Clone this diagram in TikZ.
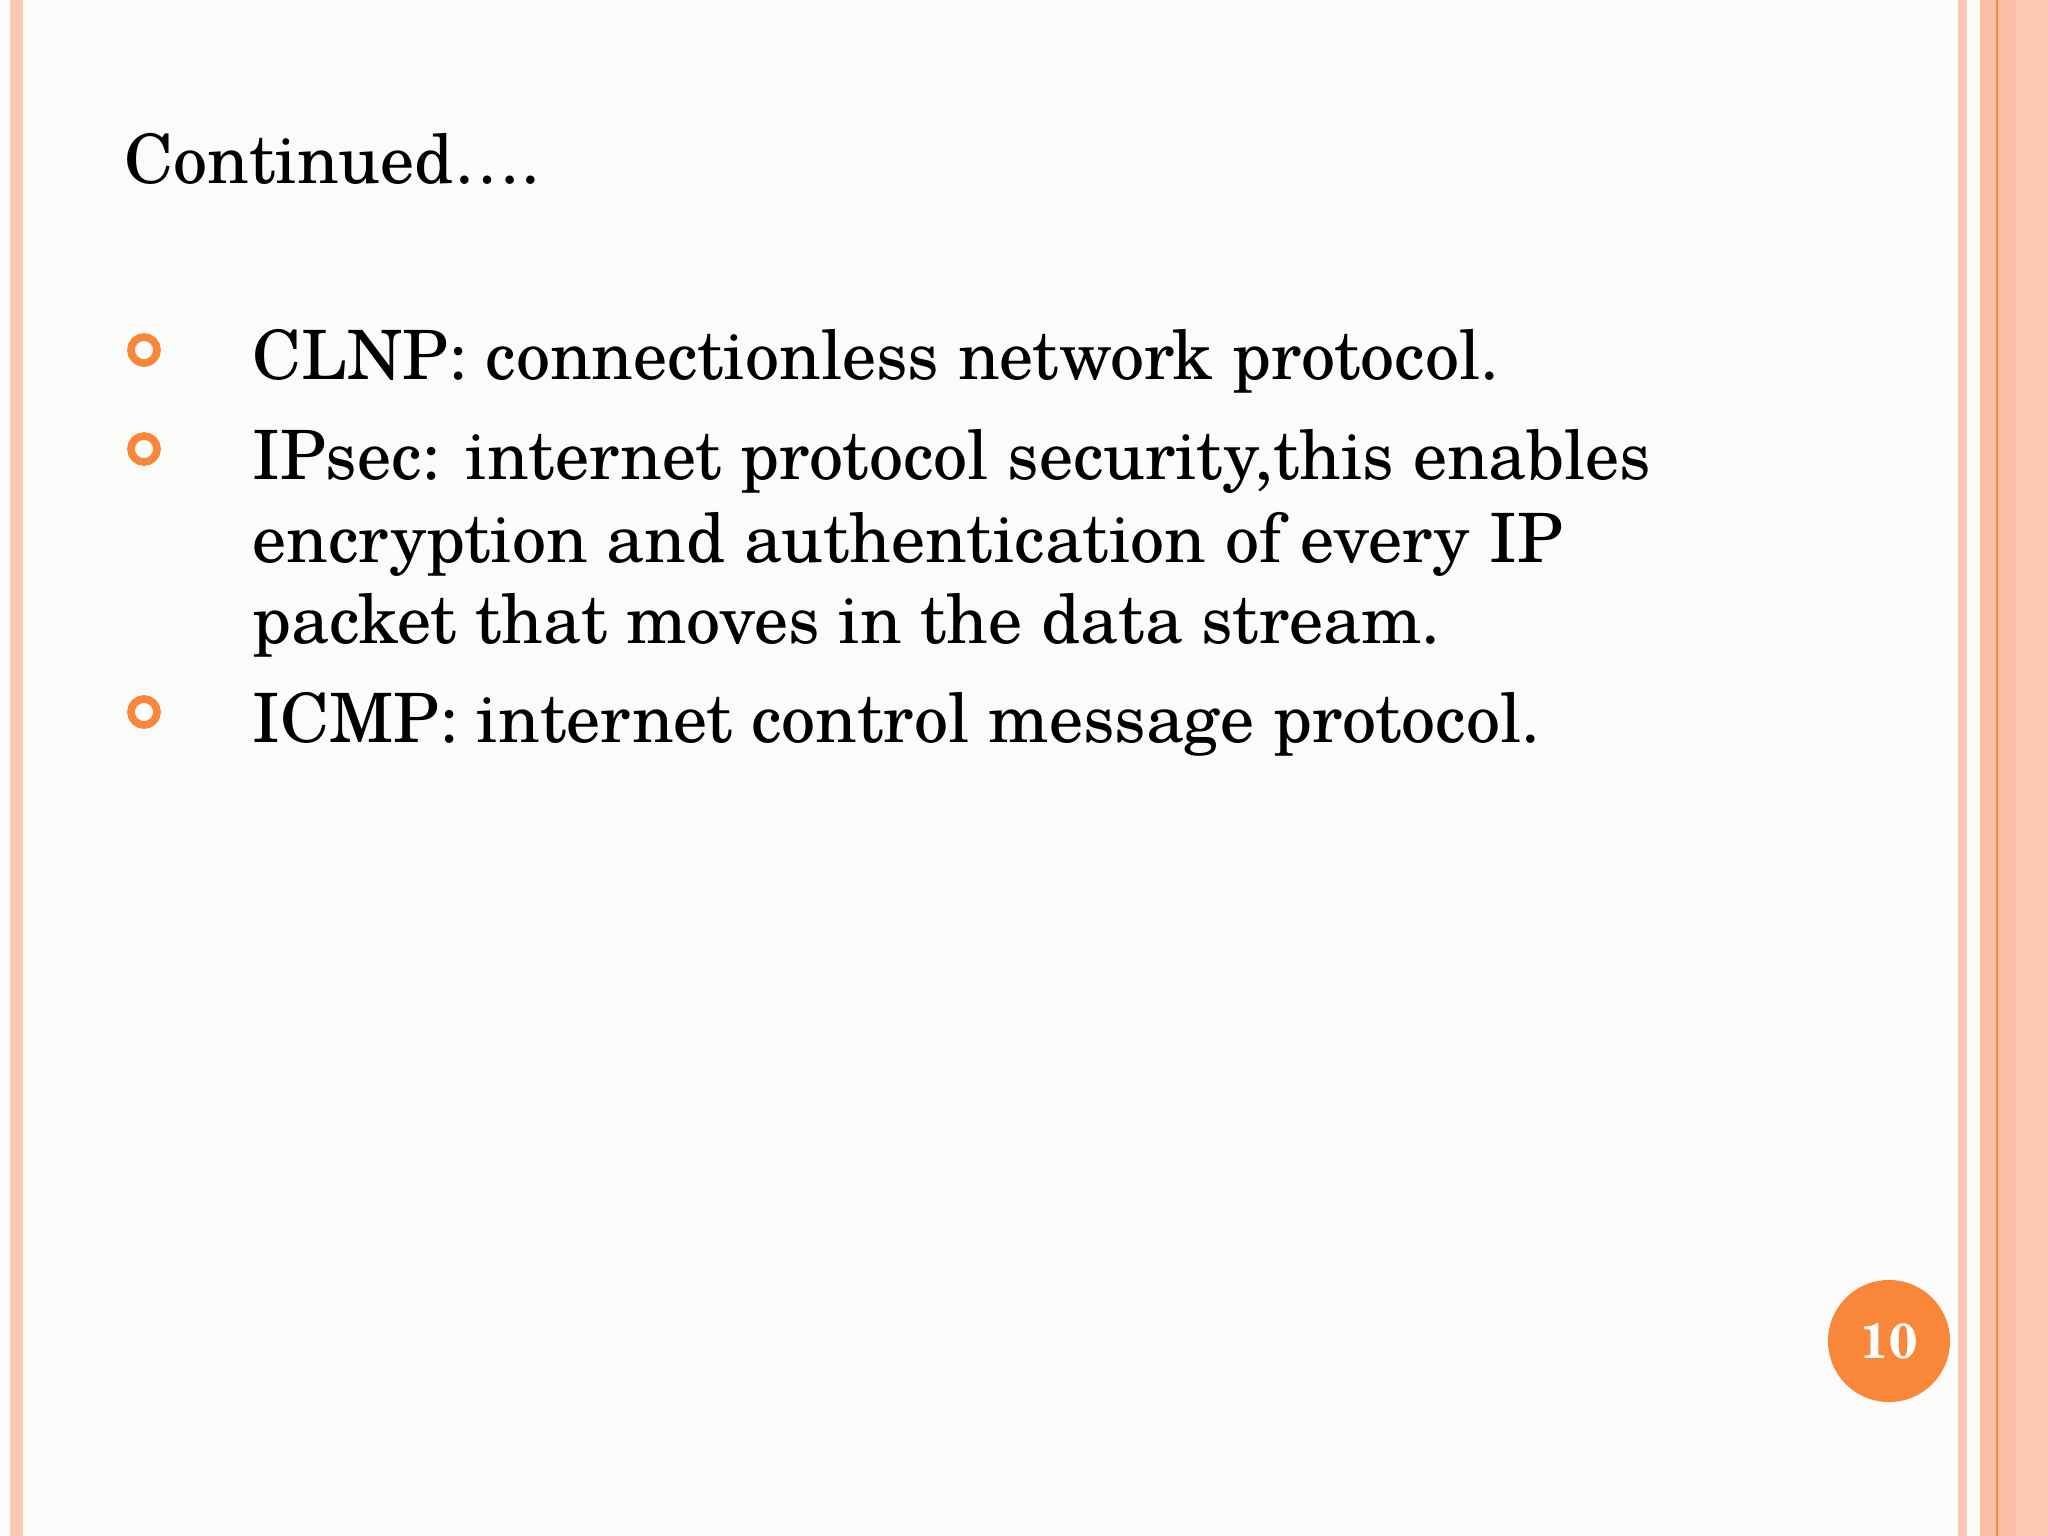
\documentclass[tikz,border=0pt]{standalone}
\usepackage{fontspec}
\setmainfont{TeX Gyre Schola}
\definecolor{bg}{HTML}{FBFBF9}
\definecolor{stripe}{HTML}{FCC7B3}
\definecolor{stripeb}{HTML}{FBBFA8}
\definecolor{orng}{HTML}{F9873A}
\begin{document}
\begin{tikzpicture}[x=0.01cm,y=-0.01cm,
  txt/.style={anchor=base west,inner sep=0pt,font=\fontsize{19.35}{23}\selectfont,text=black},
  bul/.style={circle,draw=orng,line width=2.2pt,minimum size=0.26cm,inner sep=0pt}]
\useasboundingbox (0,0) rectangle (2048,1536);
\fill[bg] (0,0) rectangle (2048,1536);
\fill[stripe] (10,0) rectangle (23,1536);
\fill[stripe] (1958,0) rectangle (1967,1536);
\fill[stripeb] (1980,0) rectangle (2016,1536);
\fill[stripe] (2016,0) rectangle (2048,1536);
\fill[orng] (1996,0) rectangle (1998,1536);
\node[txt] (title) at (124,183) {Continued….};
\node[bul] (b1) at (144,350) {};
\node[bul] (b2) at (144,449) {};
\node[bul] (b3) at (144,712) {};
\node[txt] (t1) at (252,379) {CLNP: connectionless network protocol.};
\node[txt] (t2) at (252,479) {IPsec: internet protocol security,this enables};
\node[txt] (t3) at (252,562) {encryption and authentication of every IP};
\node[txt] (t4) at (252,643) {packet that moves in the data stream.};
\node[txt] (t5) at (252,742) {ICMP: internet control message protocol.};
\node[circle,fill=orng,minimum size=1.22cm,inner sep=0pt,text=white,font=\bfseries\fontsize{14}{16}\selectfont] (pg) at (1889,1341) {10};
\end{tikzpicture}
\end{document}
